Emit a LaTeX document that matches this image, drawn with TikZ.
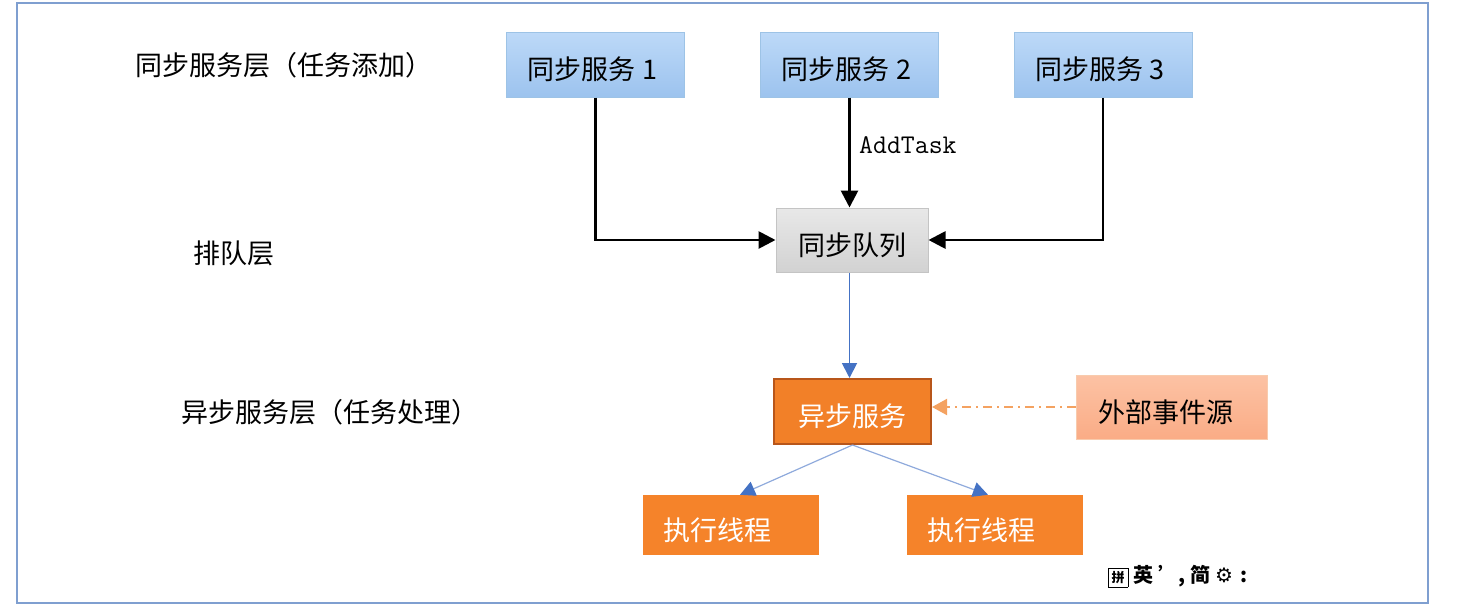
\documentclass[tikz,border=0pt]{standalone}
\usepackage{fontspec}
\setmainfont{Noto Sans CJK SC}
\newfontfamily\dejavu{DejaVu Sans}
\setmonofont{Latin Modern Mono}
\usetikzlibrary{arrows.meta}
\definecolor{frameblue}{HTML}{7F9FD0}
\definecolor{bluetop}{HTML}{BDD9F8}
\definecolor{bluebot}{HTML}{9CC3EE}
\definecolor{blueedge}{HTML}{9DC3E6}
\definecolor{graytop}{HTML}{E8E8E8}
\definecolor{graybot}{HTML}{D2D2D2}
\definecolor{grayedge}{HTML}{C4C4C4}
\definecolor{asyncfill}{HTML}{F28028}
\definecolor{asyncedge}{HTML}{B8561A}
\definecolor{exttop}{HTML}{FCC2A4}
\definecolor{extbot}{HTML}{FAAC86}
\definecolor{extedge}{HTML}{F8CBAD}
\definecolor{execfill}{HTML}{F5832A}
\definecolor{arrowblue}{HTML}{4472C4}
\definecolor{lightline}{HTML}{8FAADC}
\definecolor{dashorange}{HTML}{F4A261}
\tikzset{
  x=1pt, y=-1pt,
  lbl/.style={font=\fontsize{27}{32}\selectfont, anchor=center, inner sep=0pt},
  boxtext/.style={font=\fontsize{27}{32}\selectfont, inner sep=0pt, text height=33pt, text depth=3pt},
  syncbox/.style={boxtext, draw=blueedge, line width=1pt, top color=bluetop, bottom color=bluebot,
    minimum width=178pt, minimum height=65pt},
  queuebox/.style={boxtext, draw=grayedge, line width=1pt, top color=graytop, bottom color=graybot,
    minimum width=152pt, minimum height=64pt},
  asyncbox/.style={boxtext, draw=asyncedge, line width=2pt, fill=asyncfill, text=white,
    minimum width=157pt, minimum height=65pt},
  extbox/.style={boxtext, draw=extedge, line width=1pt, top color=exttop, bottom color=extbot,
    minimum width=191pt, minimum height=64pt},
  execbox/.style={boxtext, draw=none, fill=execfill, text=white,
    minimum width=176pt, minimum height=60pt},
  blackarrow/.style={line width=2.8pt, -{Triangle[length=17pt,width=17pt]}},
  bluearrow/.style={draw=arrowblue, line width=1.8pt, -{Triangle[length=15pt,width=15pt,fill=arrowblue]}},
  thinblue/.style={draw=lightline, line width=1.2pt, -{Triangle[length=15pt,width=15pt,fill=arrowblue,color=arrowblue]}},
  dasharrow/.style={draw=dashorange, line width=2pt, dash pattern=on 9pt off 5pt on 2pt off 5pt,
    -{Triangle[length=15pt,width=16pt,fill=dashorange,color=dashorange]}},
}
\begin{document}
\begin{tikzpicture}
\useasboundingbox (0,0) rectangle (1474,608);
\draw[frameblue, line width=2pt] (17,3) rectangle (1428,603);

\node[lbl] (l1) at (284,65) {同步服务层（任务添加）};
\node[lbl] (l2) at (234,253) {排队层};
\node[lbl] (l3) at (330,412) {异步服务层（任务处理）};

\node[syncbox] (s1) at (595.5,64.5) {\hspace*{-6pt}同步服务 1};
\node[syncbox] (s2) at (849.5,64.5) {\hspace*{-6pt}同步服务 2};
\node[syncbox] (s3) at (1103,64.5) {\hspace*{-6pt}同步服务 3};
\node[queuebox] (q) at (852,240) {同步队列};
\node[asyncbox] (a) at (852.5,411.5) {异步服务};
\node[extbox] (ext) at (1171.5,407) {\hspace*{-12pt}外部事件源};
\node[execbox] (e1) at (731,525) {\hspace*{-28pt}执行线程};
\node[execbox] (e2) at (995,525) {\hspace*{-28pt}执行线程};

\draw[blackarrow] (s1.south) |- (q.west);
\draw[blackarrow] (s2.south) -- (s2.south |- q.north)
  node[pos=0.43, right=5pt, font=\ttfamily\fontsize{27}{32}\selectfont, text=black] (addtask) {AddTask};
\draw[blackarrow] (s3.south) |- (q.east);

\draw[bluearrow] (q.south -| s2.south) -- (a.north -| s2.south);
\draw[dasharrow] (ext.west) -- (ext.west -| a.east);
\draw[thinblue] (a.south) -- ([xshift=9pt]e1.north);
\draw[thinblue] (a.south) -- ([xshift=-7pt]e2.north);

\node[font=\bfseries\fontsize{20}{24}\selectfont, anchor=west, inner sep=0pt] (ime) at (1108,576)
  {\fbox{\fontsize{13}{15}\selectfont 拼}\hspace{5pt}英\hspace{5pt}\textbf{'},\hspace{5pt}简\hspace{5pt}{\dejavu ⚙}\hspace{8pt}:};
\end{tikzpicture}
\end{document}
